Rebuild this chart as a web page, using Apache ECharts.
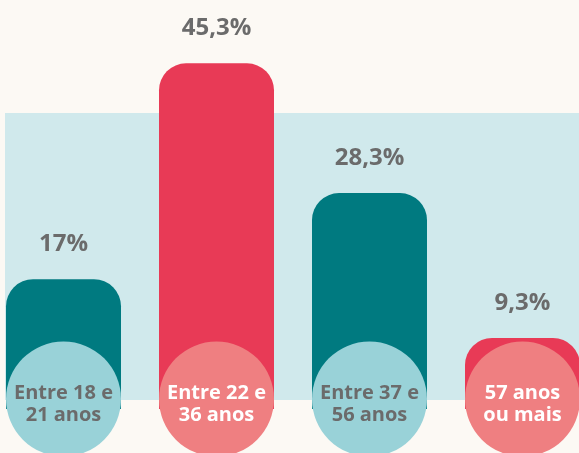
<!DOCTYPE html>
<html>
<head>
<meta charset="utf-8">
<script src="https://cdn.jsdelivr.net/npm/echarts@6.0.0/dist/echarts.min.js"></script>
<style>
  html, body { margin: 0; padding: 0; background: #fcf9f4; }
  #chart { width: 579px; height: 453px; }
</style>
</head>
<body>
<div id="chart"></div>
<script>
// age groups and share of respondents (%)
const categories = ['Entre 18 e\n21 anos', 'Entre 22 e\n36 anos', 'Entre 37 e\n56 anos', '57 anos\nou mais'];
const shares = [17, 45.3, 28.3, 9.3];
const valueLabels = ['17%', '45,3%', '28,3%', '9,3%'];

const barColors = ['#007a80', '#e83a56', '#007a80', '#e83a56'];
const circleColors = ['#99d2d8', '#ef7f81', '#99d2d8', '#ef7f81'];
const circleText = ['#6b6b6b', '#ffffff', '#6b6b6b', '#ffffff'];

const chart = echarts.init(document.getElementById('chart'));

chart.setOption({
  backgroundColor: '#fcf9f4',
  animation: false,
  textStyle: { fontFamily: 'Open Sans' },
  graphic: [{
    type: 'rect',
    z: -10,
    shape: { x: 5, y: 113, width: 580, height: 287 },
    style: { fill: '#d0e9ec' }
  }],
  // grid is wider than the canvas so the last bar runs off the right edge
  grid: { left: -13, width: 612, top: 27.5, bottom: 44, outerBoundsMode: 'none' },
  xAxis: {
    type: 'category',
    data: categories,
    axisLine: { show: false },
    axisTick: { show: false },
    axisLabel: { show: false }
  },
  yAxis: {
    type: 'value',
    min: 0,
    max: 50,
    show: false,
    splitLine: { show: false }
  },
  series: [
    {
      type: 'bar',
      barWidth: 115,
      clip: false,
      data: shares.map((v, i) => ({
        value: v,
        itemStyle: { color: barColors[i], borderRadius: [27, 27, 0, 0] }
      })),
      label: {
        show: true,
        position: 'top',
        distance: 23,
        fontSize: 24,
        fontWeight: 'bold',
        color: '#6b6b6b',
        formatter: p => valueLabels[p.dataIndex]
      }
    },
    {
      // round category badges sitting on the bar bases
      type: 'scatter',
      clip: false,
      symbol: 'circle',
      symbolSize: 115,
      symbolOffset: [0, -10],
      z: 5,
      data: categories.map((c, i) => ({
        value: [c, 0],
        itemStyle: { color: circleColors[i], opacity: 1 },
        label: { color: circleText[i] }
      })),
      label: {
        show: true,
        position: 'inside',
        offset: [0, 5],
        fontSize: 20,
        fontWeight: 'bold',
        lineHeight: 22,
        formatter: p => categories[p.dataIndex]
      },
      emphasis: { disabled: true }
    }
  ]
});
</script>
</body>
</html>
